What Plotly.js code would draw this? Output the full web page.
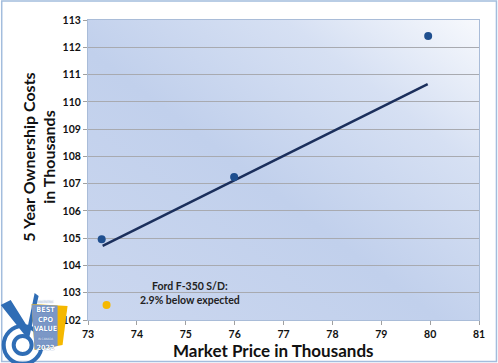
<!DOCTYPE html>
<html>
<head>
<meta charset="utf-8">
<script src="https://cdn.plot.ly/plotly-3.0.1.min.js"></script>
<style>html,body{margin:0;padding:0;background:#fff;}#chart{width:498px;height:363px;}</style>
</head>
<body>
<div id="chart"></div>
<script>
// ---- data ----
const vehicleX = [73.28, 75.99, 79.96];
const vehicleY = [104.96, 107.24, 112.41];
const fordX = [73.38];
const fordY = [102.55];
const trendX = [73.30, 79.95];
const trendY = [104.72, 110.65];
const xTicks = [73, 74, 75, 76, 77, 78, 79, 80, 81];
const yTicks = [102, 103, 104, 105, 106, 107, 108, 109, 110, 111, 112, 113];
const fordNote = "Ford F-350 S/D:<br>2.9% below expected";
const xTitle = "Market Price in Thousands";
const yTitle = "5 Year Ownership Costs<br>in Thousands";
const logoText = '<span style="font-size:3px">VINCENTRIC</span><br><b>BEST</b><br><b>CPO</b><br><b>VALUE</b><br><span style="font-size:3px">IN CANADA</span><br><b>2022</b>';

// ---- layout helpers ----
const W = 498, H = 363;
const M = {l: 87.5, r: 18.5, t: 20, b: 43};
const PW = W - M.l - M.r, PH = H - M.t - M.b;
const px = x => (x - M.l) / PW;
const py = y => (M.t + PH - y) / PH;

const grad = '<svg xmlns="http://www.w3.org/2000/svg" width="400" height="300" viewBox="0 0 400 300" preserveAspectRatio="none">' +
  '<defs><linearGradient id="g" x1="0" y1="1" x2="1" y2="0">' +
  '<stop offset="0" stop-color="#cbd7ef"/><stop offset="0.45" stop-color="#c1d0ec"/>' +
  '<stop offset="0.75" stop-color="#d6e0f3"/><stop offset="1" stop-color="#f7f9fd"/></linearGradient></defs>' +
  '<rect width="400" height="300" fill="url(#g)"/></svg>';

const font = "Lato, 'Open Sans', sans-serif";

const traces = [
  {x: trendX, y: trendY, mode: 'lines', line: {color: '#1b2f5c', width: 2.5}, hoverinfo: 'skip'},
  {x: vehicleX, y: vehicleY, mode: 'markers', marker: {color: '#1f4f8f', size: 8}},
  {x: fordX, y: fordY, mode: 'markers', marker: {color: '#f5b800', size: 8}}
];

const shapes = [
  {type: 'rect', xref: 'paper', yref: 'paper', x0: px(1), x1: px(497), y0: py(361.5), y1: py(1),
   line: {color: '#a3bddd', width: 1.5}, fillcolor: 'rgba(0,0,0,0)', layer: 'below'},
  {type: 'circle', xref: 'paper', yref: 'paper', x0: px(3), x1: px(41), y0: py(364), y1: py(326),
   line: {color: '#2f6db5', width: 4}, fillcolor: 'rgba(0,0,0,0)'},
  {type: 'circle', xref: 'paper', yref: 'paper', x0: px(13), x1: px(31), y0: py(354), y1: py(336),
   line: {color: '#2f6db5', width: 4}, fillcolor: 'rgba(0,0,0,0)'},
  {type: 'path', xref: 'paper', yref: 'paper',
   path: `M ${px(0)} ${py(305)} L ${px(10)} ${py(300)} L ${px(27)} ${py(327)} L ${px(34)} ${py(293)} L ${px(38)} ${py(296)} L ${px(28)} ${py(340)} Z`,
   line: {width: 0}, fillcolor: '#2f6db5'},
  {type: 'path', xref: 'paper', yref: 'paper',
   path: `M ${px(31)} ${py(304)} L ${px(67)} ${py(306)} L ${px(62)} ${py(345)} L ${px(34)} ${py(350)} Z`,
   line: {width: 0}, fillcolor: '#f5b800'},
  {type: 'path', xref: 'paper', yref: 'paper',
   path: `M ${px(31)} ${py(304.5)} L ${px(57)} ${py(305.5)} L ${px(57)} ${py(346)} L ${px(34)} ${py(349.5)} Z`,
   line: {width: 0}, fillcolor: '#7b97c6'}
];

const annotations = [
  {x: 75.09, y: 103.0, xref: 'x', yref: 'y', text: fordNote, showarrow: false,
   font: {family: font, size: 10.5, color: '#222', weight: 'bold'}, align: 'center'},
  {xref: 'paper', yref: 'paper', x: px(273), y: py(350), text: xTitle, showarrow: false,
   xanchor: 'center', yanchor: 'middle', font: {family: font, size: 17, color: '#111', weight: 'bold'}},
  {xref: 'paper', yref: 'paper', x: px(38), y: py(157), text: yTitle, showarrow: false, textangle: -90,
   xanchor: 'center', yanchor: 'middle', font: {family: font, size: 16, color: '#111', weight: 'bold'}},
  {xref: 'paper', yref: 'paper', x: px(44.5), y: py(326), text: logoText, showarrow: false,
   xanchor: 'center', yanchor: 'middle', align: 'center', borderpad: 0,
   font: {family: "'Liberation Sans Narrow', 'DejaVu Sans Condensed', sans-serif", size: 7.2, color: '#ffffff',
          shadow: '0px 0px 1px #1f4e9c'}}
];

const layout = {
  width: W, height: H,
  margin: {l: M.l, r: M.r, t: M.t, b: M.b, pad: 0},
  paper_bgcolor: '#ffffff',
  plot_bgcolor: 'rgba(0,0,0,0)',
  showlegend: false,
  images: [{source: 'data:image/svg+xml;charset=utf-8,' + encodeURIComponent(grad),
    xref: 'paper', yref: 'paper', x: 0, y: 1, sizex: 1, sizey: 1,
    sizing: 'stretch', xanchor: 'left', yanchor: 'top', layer: 'below'}],
  xaxis: {range: [73, 81], tickvals: xTicks, ticktext: xTicks.map(String), showgrid: false, zeroline: false,
    showline: true, mirror: true, linecolor: '#a9bcd8', linewidth: 1,
    ticks: 'outside', ticklen: 4, tickcolor: '#a0a0a0', fixedrange: true,
    tickfont: {family: font, size: 10.5, color: '#111', weight: 'bold'}},
  yaxis: {range: [102, 113], tickvals: yTicks, ticktext: yTicks.map(String), showgrid: true, gridcolor: '#a8aab0',
    gridwidth: 1, zeroline: false, showline: true, mirror: true, linecolor: '#a9bcd8', linewidth: 1,
    ticks: 'outside', ticklen: 4, tickcolor: '#a0a0a0', fixedrange: true,
    tickfont: {family: font, size: 10.5, color: '#111', weight: 'bold'}},
  shapes: shapes,
  annotations: annotations
};

Plotly.newPlot('chart', traces, layout, {displayModeBar: false, staticPlot: true});
</script>
</body>
</html>
